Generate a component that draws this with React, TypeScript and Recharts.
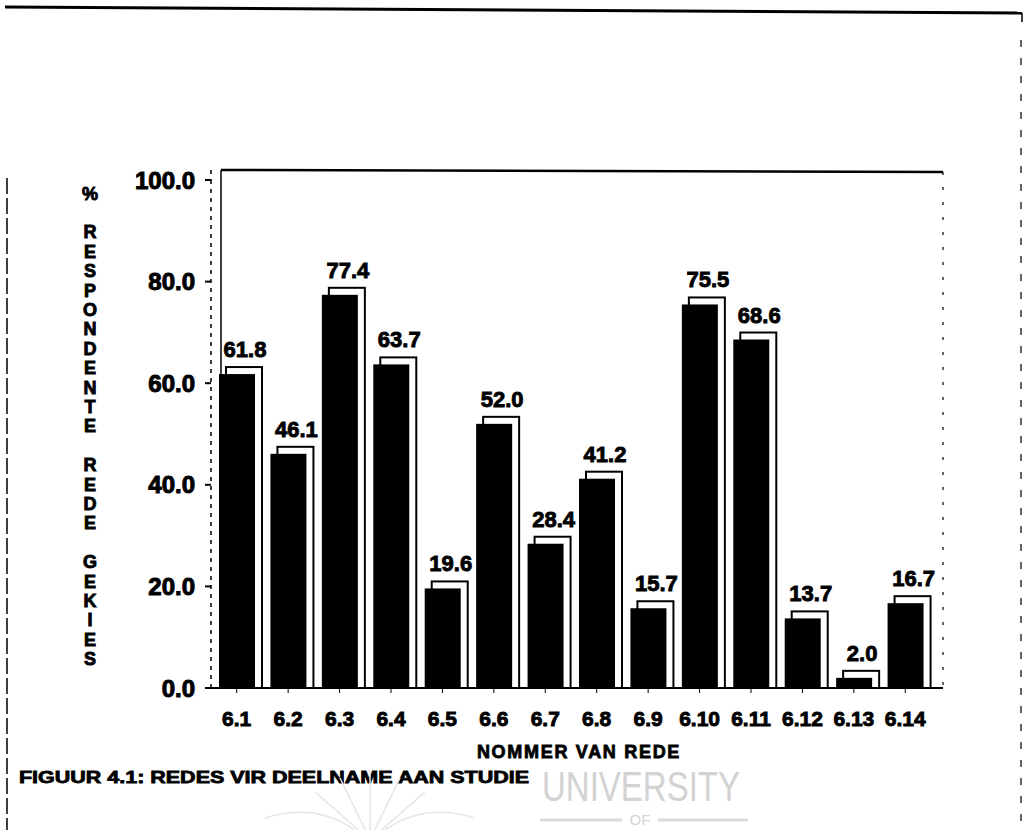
import React from 'react';
import { BarChart, Bar, XAxis, YAxis, LabelList, Label } from 'recharts';

// Reasons for taking part in the study (question 6.x), % of respondents
const categories = ['6.1', '6.2', '6.3', '6.4', '6.5', '6.6', '6.7', '6.8', '6.9', '6.10', '6.11', '6.12', '6.13', '6.14'];
const percentages = [61.8, 46.1, 77.4, 63.7, 19.6, 52.0, 28.4, 41.2, 15.7, 75.5, 68.6, 13.7, 2.0, 16.7];
const yTicks = [0, 20, 40, 60, 80, 100];
const yTitleLines = ['%', '', 'R', 'E', 'S', 'P', 'O', 'N', 'D', 'E', 'N', 'T', 'E', '', 'R', 'E', 'D', 'E', '', 'G', 'E', 'K', 'I', 'E', 'S'];
const xTitle = 'NOMMER VAN REDE';
const caption = 'FIGUUR 4.1: REDES VIR DEELNAME AAN STUDIE';

const data = categories.map((rede, i) => ({ rede, pct: percentages[i] }));

const FONT = "'Liberation Sans', Arial, Helvetica, sans-serif";
const SHADOW = 7;

// Black bar with an outlined "shadow" frame offset up and to the right
const FramedBar = (props: any) => {
  const { x, y, width, height } = props;
  if (width == null || height == null) return null;
  return (
    <g>
      <rect x={x + SHADOW} y={y - SHADOW} width={width} height={height + SHADOW}
        fill="#fff" stroke="#000" strokeWidth={2} />
      <rect x={x} y={y} width={width} height={height} fill="#000" />
    </g>
  );
};

const ValueLabel = (props: any) => {
  const { x, y, width, value } = props;
  return (
    <text x={x + width / 2 + 8} y={y - 17} textAnchor="middle" fontFamily={FONT}
      fontSize={22} fontWeight={700} fill="#000" stroke="#000" strokeWidth={0.9}>
      {Number(value).toFixed(1)}
    </text>
  );
};

const YTitle = (props: any) => {
  const vb = props.viewBox || { x: 0, y: 0 };
  const step = 19.4;
  return (
    <g>
      {yTitleLines.map((ch, i) =>
        ch ? (
          <text key={i} x={vb.x + 90} y={vb.y + 13 + i * step + 6.5} textAnchor="middle"
            fontFamily={FONT} fontSize={18} fontWeight={700} fill="#000" stroke="#000" strokeWidth={0.9}>
            {ch}
          </text>
        ) : null
      )}
    </g>
  );
};

const XTitle = (props: any) => {
  const vb = props.viewBox || { x: 0, y: 0, width: 0 };
  return (
    <text x={vb.x + vb.width / 2 + 2} y={vb.y + 70} textAnchor="middle" fontFamily={FONT}
      fontSize={18} fontWeight={700} letterSpacing={1.7} fill="#000" stroke="#000" strokeWidth={0.8}>
      {xTitle}
    </text>
  );
};

const Decorations = () => (
  <svg width={1027} height={830} style={{ position: 'absolute', left: 0, top: 0 }}>
    {/* page rules */}
    <line x1={5} y1={7} x2={1022} y2={13} stroke="#000" strokeWidth={3} />
    <line x1={1022} y1={13} x2={1022} y2={22} stroke="#000" strokeWidth={1.5} />
    <line x1={1021} y1={40} x2={1021} y2={830} stroke="#000" strokeWidth={1.2} strokeDasharray="7 11" />
    <line x1={7} y1={178} x2={7} y2={830} stroke="#000" strokeWidth={1.5} strokeDasharray="16 4" />
    {/* plot frame */}
    <line x1={221} y1={170} x2={943} y2={172} stroke="#000" strokeWidth={2.5} />
    <line x1={221} y1={170} x2={221} y2={688} stroke="#000" strokeWidth={1.5} />
    <line x1={943} y1={172} x2={943} y2={688} stroke="#000" strokeWidth={1.2} strokeDasharray="3 12" />
    <line x1={211} y1={170} x2={211} y2={180} stroke="#000" strokeWidth={1.5} strokeDasharray="4 5" />
    {/* caption */}
    <text x={19} y={783} fontFamily={FONT} fontSize={17} fontWeight={700} fill="#000" stroke="#000"
      strokeWidth={0.8} textLength={510} lengthAdjust="spacingAndGlyphs">
      {caption}
    </text>
    {/* faint watermark */}
    <g stroke="#e6e6e6" strokeWidth={1.5} fill="none">
      <path d="M370 840 L315 792" />
      <path d="M370 840 L340 778" />
      <path d="M370 840 L370 770" />
      <path d="M370 840 L400 778" />
      <path d="M370 840 L425 792" />
      <path d="M265 818 Q315 802 355 830" />
      <path d="M475 818 Q425 802 385 830" />
    </g>
    <text x={542} y={801} fontFamily={FONT} fontSize={42} fontWeight={400} fill="#d2d2d2"
      textLength={198} lengthAdjust="spacingAndGlyphs">UNIVERSITY</text>
    <line x1={540} y1={820} x2={622} y2={820} stroke="#dcdcdc" strokeWidth={3} />
    <line x1={658} y1={820} x2={748} y2={820} stroke="#dcdcdc" strokeWidth={3} />
    <text x={640} y={825} textAnchor="middle" fontFamily={FONT} fontSize={15} fill="#d4d4d4">OF</text>
  </svg>
);

export default function App() {
  return (
    <div style={{ position: 'absolute', left: 0, top: 0, width: 1027, height: 830, background: '#fff', overflow: 'hidden' }}>
      <Decorations />
      <div style={{ position: 'absolute', left: 0, top: 0 }}>
        <BarChart width={1027} height={830} data={data} barSize={36}
          margin={{ top: 180, right: 84, bottom: 82, left: 0 }}>
          <XAxis dataKey="rede" height={60} interval={0} padding={{ left: 0, right: 12 }}
            axisLine={{ stroke: '#000', strokeWidth: 2 }} tickLine={{ stroke: '#000', strokeWidth: 1 }}
            tickSize={5} tickMargin={18}
            tick={{ fill: '#000', fontSize: 21, fontWeight: 700, fontFamily: FONT, stroke: '#000', strokeWidth: 0.9 }}>
            <Label content={XTitle} />
          </XAxis>
          <YAxis type="number" domain={[0, 100]} ticks={yTicks} width={211} interval={0}
            tickFormatter={(v: number) => v.toFixed(1)}
            axisLine={{ stroke: '#000', strokeWidth: 1.5, strokeDasharray: '4 5' }}
            tickLine={{ stroke: '#000', strokeWidth: 2 }} tickSize={6} tickMargin={10}
            tick={{ fill: '#000', fontSize: 24, fontWeight: 700, fontFamily: FONT, stroke: '#000', strokeWidth: 1 }}>
            <Label content={YTitle} />
          </YAxis>
          <Bar dataKey="pct" shape={FramedBar} isAnimationActive={false}>
            <LabelList dataKey="pct" content={ValueLabel} />
          </Bar>
        </BarChart>
      </div>
    </div>
  );
}
